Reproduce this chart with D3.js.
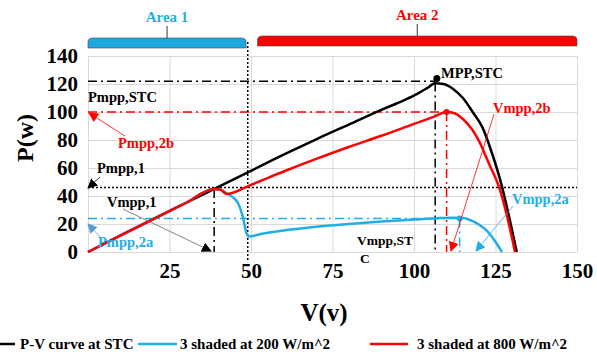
<!DOCTYPE html>
<html>
<head>
<meta charset="utf-8">
<script src="https://cdn.jsdelivr.net/npm/d3@7/dist/d3.min.js"></script>
<style>
  body { margin: 0; background: #fff; }
  svg text { font-family: "Liberation Serif", "Times New Roman", serif; font-weight: bold; }
  .grid line { stroke: #d9d9d9; stroke-width: 1; }
  .grid path { display: none; }
  .axis path, .axis line { display: none; }
  .axis text { font-size: 21px; fill: #000; }
</style>
</head>
<body>
<script>
// P-V curves
const stcV = [0, 10, 20, 30, 40, 50, 60, 70, 80, 90, 97, 101, 104, 106.5, 109, 112, 115, 118, 121, 124, 126.5, 129, 131.5];
const stcP = [0, 11.8, 23.5, 35, 46.5, 58, 69.5, 80.5, 91, 101.5, 108.5, 113, 117, 120.5, 120, 116.5, 110, 100, 89, 70, 51, 27, 0];

const redV = [0, 10, 20, 30, 38.7, 40.5, 42.6, 50, 60, 70, 80, 90, 100, 106, 110, 112, 115, 118, 120, 123, 126, 128.5, 131];
const redP = [0, 11.8, 23.5, 35, 45, 44.6, 41.4, 48, 57.5, 66.5, 75, 83, 91.5, 96.5, 100, 99.5, 95, 87, 79, 63, 47, 26, 0];

const cyanV = [0, 10, 20, 30, 38.7, 40.5, 42.6, 44.5, 46, 47.5, 48.7, 49.3, 53, 60, 70, 80, 90, 100, 107, 112, 115, 118, 120, 122, 124.5, 127];
const cyanP = [0, 11.8, 23.5, 35, 45, 44.6, 41.8, 39, 35, 25, 13, 11, 12.8, 15.3, 18, 20, 21.8, 23.2, 24.1, 24.5, 24.3, 22, 19.5, 16, 9, 0];

// axes ticks
const xTicks = [25, 50, 75, 100, 125, 150];
const yTicks = [0, 20, 40, 60, 80, 100, 120, 140];

// legend
const seriesNames = ["P-V curve at STC", "3 shaded at 200 W/m^2", "3 shaded at 800 W/m^2"];
const seriesColors = ["#000000", "#1eaee8", "#ff0000"];

const W = 597, H = 356;
const x = d3.scaleLinear().domain([0, 150]).range([88, 577]);
const y = d3.scaleLinear().domain([0, 140]).range([252, 56]);

const svg = d3.select("body").append("svg").attr("width", W).attr("height", H);

const defs = svg.append("defs");
function marker(id, color) {
  defs.append("marker")
    .attr("id", id).attr("viewBox", "0 0 10 10")
    .attr("refX", 9).attr("refY", 5)
    .attr("markerWidth", 10).attr("markerHeight", 10)
    .attr("markerUnits", "userSpaceOnUse")
    .attr("orient", "auto")
    .append("path").attr("d", "M0,0 L10,5 L0,10 Z").attr("fill", color);
}
marker("aBlack", "#000");
marker("aRed", "#ff0000");
marker("aCyan", "#1eaee8");
marker("aBlue", "#5b9bd5");

// grid
svg.append("g").attr("class", "grid")
  .attr("transform", "translate(0," + y(0) + ")")
  .call(d3.axisBottom(x).tickValues([0].concat(xTicks)).tickSize(-(y(0) - y(140))).tickFormat(""));
svg.append("g").attr("class", "grid")
  .attr("transform", "translate(" + x(0) + ",0)")
  .call(d3.axisLeft(y).tickValues(yTicks).tickSize(-(x(150) - x(0))).tickFormat(""));

// tick labels
svg.append("g").attr("class", "axis")
  .attr("transform", "translate(0," + (y(0) + 10) + ")")
  .call(d3.axisBottom(x).tickValues(xTicks).tickSize(0).tickPadding(0))
  .selectAll("text").attr("dy", "0.75em");
svg.append("g").attr("class", "axis")
  .attr("transform", "translate(" + (x(0) - 10) + ",0)")
  .call(d3.axisLeft(y).tickValues(yTicks).tickSize(0).tickPadding(0));

// axis titles
svg.append("text").attr("x", 324).attr("y", 321).attr("text-anchor", "middle")
  .attr("font-size", 25).text("V(v)");
svg.append("text").attr("transform", "translate(33,138) rotate(-90)").attr("text-anchor", "middle")
  .attr("font-size", 24).text("P(w)");

// area braces
function brace(v0, v1, top, color, label) {
  const l = x(v0), r = x(v1), b = top + 10, m = (l + r) / 2;
  svg.append("path")
    .attr("d", `M${l},${b} L${l},${top + 4} Q${l},${top} ${l + 5},${top} L${r - 5},${top} Q${r},${top} ${r},${top + 4} L${r},${b} Z`)
    .attr("fill", color).attr("stroke", "#444").attr("stroke-width", 0.6);
  svg.append("line").attr("x1", m).attr("x2", m).attr("y1", top - 12).attr("y2", top)
    .attr("stroke", "#333").attr("stroke-width", 1);
  svg.append("text").attr("x", m).attr("y", top - 16).attr("text-anchor", "middle")
    .attr("font-size", 15).attr("fill", color === "#ff0000" ? "#ff0000" : "#29abe2").text(label);
}
brace(0, 48.5, 38, "#1ea8e2", "Area 1");
brace(52, 150, 36, "#ff0000", "Area 2");

// reference lines
function seg(v0, p0, v1, p1, color, dash, w) {
  svg.append("line")
    .attr("x1", x(v0)).attr("y1", y(p0)).attr("x2", x(v1)).attr("y2", y(p1))
    .attr("stroke", color).attr("stroke-width", w || 1.5)
    .attr("stroke-dasharray", dash);
}
const dashDot = "9,4,2,4";
seg(0, 122, 106.5, 122, "#000", dashDot);
seg(106.5, 121, 106.5, 0, "#000", dashDot);
seg(0, 100, 110, 100, "#ff0000", dashDot);
seg(110, 100, 110, 0, "#ff0000", dashDot);
seg(0, 24, 114, 24, "#1eaee8", dashDot);
seg(114, 24, 114, 0, "#1eaee8", dashDot);
seg(38.7, 45, 38.7, 0, "#000", dashDot);
seg(0, 46, 150, 46, "#000", "2,2", 1.5);
svg.append("line").attr("x1", x(49)).attr("x2", x(49)).attr("y1", 42).attr("y2", y(0) + 8)
  .attr("stroke", "#000").attr("stroke-width", 1.5).attr("stroke-dasharray", "2,2");

// curves
const line = d3.line().x(d => x(d[0])).y(d => y(d[1])).curve(d3.curveMonotoneX);
const curves = [
  d3.zip(stcV, stcP),
  d3.zip(cyanV, cyanP),
  d3.zip(redV, redP)
];
curves.forEach((c, i) => {
  svg.append("path").datum(c).attr("d", line)
    .attr("fill", "none").attr("stroke", seriesColors[i]).attr("stroke-width", 2.5);
});

// points
svg.append("circle").attr("cx", x(107)).attr("cy", y(124)).attr("r", 3.5).attr("fill", "#000");
svg.append("circle").attr("cx", x(110)).attr("cy", y(100)).attr("r", 3).attr("fill", "#ff0000");
svg.append("circle").attr("cx", x(114)).attr("cy", y(24)).attr("r", 3).attr("fill", "#1eaee8");

// annotations
function label(px, py, txt, color, size) {
  svg.append("text").attr("x", px).attr("y", py).attr("font-size", size || 14.5)
    .attr("fill", color).text(txt);
}
function arrow(x1, y1, x2, y2, color, m) {
  svg.append("line").attr("x1", x1).attr("y1", y1).attr("x2", x2).attr("y2", y2)
    .attr("stroke", color).attr("stroke-width", 0.8).attr("marker-end", "url(#" + m + ")");
}
label(88, 102, "Pmpp,STC", "#000");
label(441, 78, "MPP,STC", "#000");
label(118, 148, "Pmpp,2b", "#ff0000");
arrow(125, 136, 89, 113, "#ff0000", "aRed");
label(97, 173, "Pmpp,1", "#000");
arrow(100, 177, 88, 188, "#000", "aBlack");
label(107, 207, "Vmpp,1", "#000");
arrow(123, 209, 211, 251, "#666", "aBlack");
label(98, 247, "Pmpp,2a", "#1eaee8");
arrow(101, 238, 88, 224, "#5b9bd5", "aBlue");
label(493, 113, "Vmpp,2b", "#ff0000");
arrow(494, 114, 451, 251, "#ff0000", "aRed");
label(512, 204, "Vmpp,2a", "#1eaee8");
arrow(513, 206, 476, 251, "#1eaee8", "aCyan");
label(357, 245, "Vmpp,ST", "#000", 13.5);
label(360, 263, "C", "#000", 13.5);

// legend
const legX = [[0, 15, 20], [138, 177, 180], [370, 408, 417]];
seriesNames.forEach((n, i) => {
  svg.append("line").attr("x1", legX[i][0]).attr("x2", legX[i][1]).attr("y1", 344).attr("y2", 344)
    .attr("stroke", seriesColors[i]).attr("stroke-width", 2.5);
  svg.append("text").attr("x", legX[i][2]).attr("y", 349).attr("font-size", 15).text(n);
});
</script>
</body>
</html>
